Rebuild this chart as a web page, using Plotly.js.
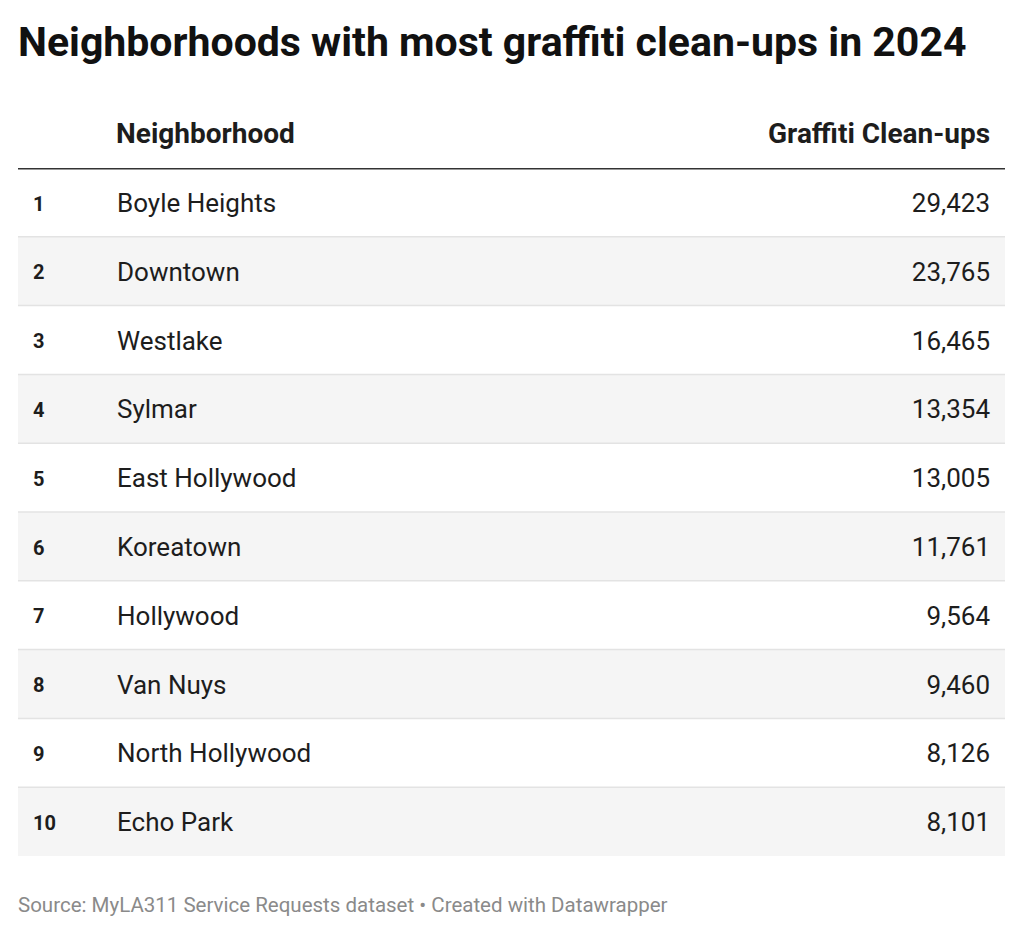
<!DOCTYPE html>
<html>
<head>
<meta charset="utf-8">
<script src="https://cdn.plot.ly/plotly-3.0.1.min.js"></script>
<style>html,body{margin:0;padding:0;background:#fff;}#chart{width:1024px;height:936px;}</style>
</head>
<body>
<div id="chart"></div>
<script>
const ranks = [1, 2, 3, 4, 5, 6, 7, 8, 9, 10];
const neighborhoods = ['Boyle Heights', 'Downtown', 'Westlake', 'Sylmar', 'East Hollywood',
  'Koreatown', 'Hollywood', 'Van Nuys', 'North Hollywood', 'Echo Park'];
const cleanups = [29423, 23765, 16465, 13354, 13005, 11761, 9564, 9460, 8126, 8101];
const headers = ['Neighborhood', 'Graffiti Clean-ups'];
const titleText = 'Neighborhoods with most graffiti clean-ups in 2024';
const sourceText = 'Source: MyLA311 Service Requests dataset • Created with Datawrapper';

const FONT = 'Roboto, "Noto Sans", sans-serif';
const colRank = 33, colName = 117, colValue = 990;
const textOffset = 0.045; // rows, nudges text slightly below the row centre

const traces = [
  {
    type: 'scatter', mode: 'text', x: ranks.map(() => colRank), y: ranks, yaxis: 'y2',
    text: ranks.map(String), textposition: 'middle right',
    textfont: {family: FONT, size: 20, color: '#1d1d1d', weight: 700},
    hoverinfo: 'skip', showlegend: false, cliponaxis: false
  },
  {
    type: 'scatter', mode: 'text', x: ranks.map(() => colName), y: ranks, yaxis: 'y2',
    text: neighborhoods, textposition: 'middle right',
    textfont: {family: FONT, size: 26, color: '#1d1d1d'},
    hoverinfo: 'skip', showlegend: false, cliponaxis: false
  },
  {
    type: 'scatter', mode: 'text', x: ranks.map(() => colValue), y: ranks, yaxis: 'y2',
    customdata: cleanups, texttemplate: '%{customdata:,}', textposition: 'middle left',
    textfont: {family: FONT, size: 26, color: '#1d1d1d'},
    hoverinfo: 'skip', showlegend: false, cliponaxis: false
  }
];

const shapes = [];
ranks.forEach((r, i) => {
  if (i % 2 === 1) {
    shapes.push({type: 'rect', xref: 'paper', yref: 'y', x0: 0, x1: 1, y0: r - 0.5, y1: r + 0.5,
      fillcolor: '#f5f5f5', line: {width: 0}, layer: 'below'});
  }
});
ranks.slice(0, -1).forEach(r => {
  shapes.push({type: 'line', xref: 'paper', yref: 'y', x0: 0, x1: 1, y0: r + 0.5, y1: r + 0.5,
    line: {color: '#e3e3e3', width: 1.5}, layer: 'below'});
});
shapes.push({type: 'line', xref: 'paper', yref: 'y', x0: 0, x1: 1, y0: 0.5, y1: 0.5,
  line: {color: '#333333', width: 3}, layer: 'above'});

const annotations = [
  {xref: 'x', yref: 'paper', x: colName, y: 1, yshift: 35, xshift: -3, xanchor: 'left', yanchor: 'middle',
    text: headers[0], showarrow: false, font: {family: FONT, size: 28, color: '#1d1d1d', weight: 700}},
  {xref: 'x', yref: 'paper', x: colValue, y: 1, yshift: 35, xshift: 2, xanchor: 'right', yanchor: 'middle',
    text: headers[1], showarrow: false, font: {family: FONT, size: 28, color: '#1d1d1d', weight: 700}},
  {xref: 'paper', yref: 'paper', x: 0, y: 0, yshift: -49, xshift: -2, xanchor: 'left', yanchor: 'middle',
    text: sourceText, showarrow: false, font: {family: FONT, size: 20.5, color: '#8a8a8a'}}
];

const layout = {
  width: 1024, height: 936,
  margin: {l: 18, r: 19, t: 168, b: 80, pad: 0},
  paper_bgcolor: '#ffffff', plot_bgcolor: '#ffffff',
  title: {text: '<b>' + titleText + '</b>', xref: 'container', yref: 'container',
    x: 18 / 1024, xanchor: 'left', y: 1 - 42 / 936, yanchor: 'middle',
    font: {family: FONT, size: 41, color: '#111111', weight: 700}},
  xaxis: {range: [18, 1005], visible: false, fixedrange: true},
  yaxis: {range: [10.5, 0.5], visible: false, fixedrange: true},
  yaxis2: {range: [10.5 - textOffset, 0.5 - textOffset], overlaying: 'y', visible: false, fixedrange: true},
  shapes: shapes, annotations: annotations, showlegend: false, hovermode: false
};

Plotly.newPlot('chart', traces, layout, {displayModeBar: false, staticPlot: true});
</script>
</body>
</html>
